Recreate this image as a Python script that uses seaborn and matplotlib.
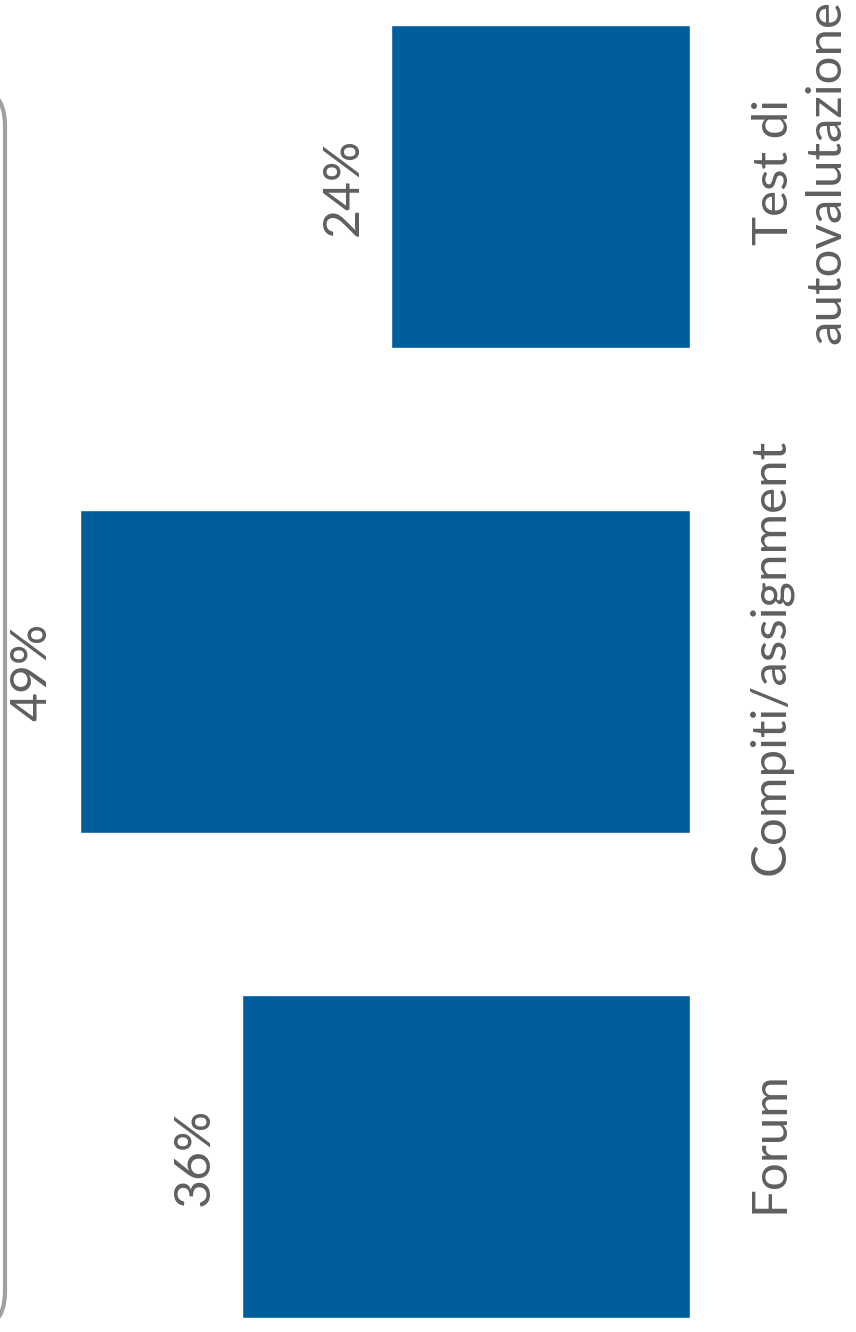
import matplotlib
matplotlib.use('Agg')
import matplotlib.pyplot as plt
import matplotlib.transforms as mtransforms
from matplotlib.patches import FancyBboxPatch
import seaborn as sns
import pandas as pd

categories = ["Forum", "Compiti/assignment", "Test di\nautovalutazione"]
values = [36, 49, 24]

bar_color = "#005E9C"
text_color = "#5F5F5F"

sns.set_theme(style="white")
plt.rcParams['font.family'] = ['Lato', 'DejaVu Sans']

df = pd.DataFrame({"cat": categories, "val": values})
order = categories[::-1]   # top to bottom in the rotated view

fig = plt.figure(figsize=(8.56, 13.32), dpi=100)
ax = fig.add_axes([0, 0, 690 / 856, 1])

sns.barplot(data=df, x="val", y="cat", order=order, orient="h",
            color=bar_color, width=0.666, saturation=1, ax=ax)

# bars grow to the left
ax.set_xlim(690 / 12.45, 0)
ax.set_ylim(2.362, -0.3845)
ax.axis("off")

for i, cat in enumerate(order):
    v = df.loc[df.cat == cat, "val"].iloc[0]
    ax.text(v + 3.8, i, f"{v}%", rotation=90, ha="center", va="center",
            fontsize=36, color=text_color)

trans = mtransforms.blended_transform_factory(ax.transAxes, ax.transData)
for i, cat in enumerate(order):
    x = 770 / 690 if "\n" not in cat else 800 / 690
    ax.text(x, i - 0.03, cat, rotation=90, ha="center", va="center",
            multialignment="center", fontsize=35.5, color=text_color,
            transform=trans, linespacing=1.25)

# piece of the rounded frame on the left edge
frame = FancyBboxPatch((-200, 0), 205, 1247,
                       boxstyle="round,pad=0,rounding_size=40",
                       transform=None, fill=False, edgecolor="#A0A0A0",
                       linewidth=3, clip_on=False)
fig.patches.append(frame)

fig.savefig("out.png", dpi=100)
